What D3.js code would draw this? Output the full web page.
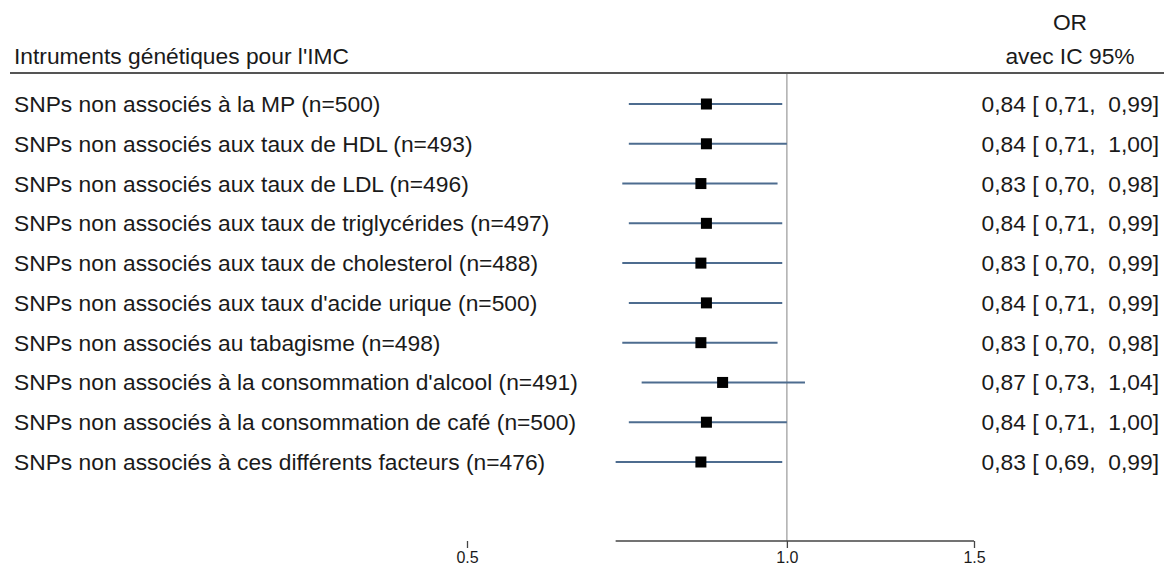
<!DOCTYPE html>
<html><head><meta charset="utf-8">
<script src="https://cdn.jsdelivr.net/npm/d3@7"></script>
<style>body{margin:0;background:#fff}svg{display:block}text{font-family:"Liberation Sans",Arial,sans-serif;fill:#1a1a1a}</style>
</head><body><div id="chart"></div>
<script>
const labels = [
  "SNPs non associés à la MP (n=500)",
  "SNPs non associés aux taux de HDL (n=493)",
  "SNPs non associés aux taux de LDL (n=496)",
  "SNPs non associés aux taux de triglycérides (n=497)",
  "SNPs non associés aux taux de cholesterol (n=488)",
  "SNPs non associés aux taux d'acide urique (n=500)",
  "SNPs non associés au tabagisme (n=498)",
  "SNPs non associés à la consommation d'alcool (n=491)",
  "SNPs non associés à la consommation de café (n=500)",
  "SNPs non associés à ces différents facteurs (n=476)"
];
const orValues = [0.84, 0.84, 0.83, 0.84, 0.83, 0.84, 0.83, 0.87, 0.84, 0.83];
const ciLower  = [0.71, 0.71, 0.70, 0.71, 0.70, 0.71, 0.70, 0.73, 0.71, 0.69];
const ciUpper  = [0.99, 1.00, 0.98, 0.99, 0.99, 0.99, 0.98, 1.04, 1.00, 0.99];
const tickValues = [0.5, 1.0, 1.5];
const headerLeft = "Intruments génétiques pour l'IMC";
const headerRight = ["OR", "avec IC 95%"];

const W = 1164, H = 570;
const FS = 22.8;
const svg = d3.select("#chart").append("svg").attr("width", W).attr("height", H);
const x = d3.scaleLog().domain([0.5, 1.5]).range([467, 974]);
const y = d3.scalePoint().domain(d3.range(labels.length)).range([104, 462]);
const fmt = v => v.toFixed(2).replace(".", ",");
const axisY = 541;

// header
svg.append("text").attr("x", 14).attr("y", 64).attr("font-size", FS).text(headerLeft);
headerRight.forEach((t, i) => svg.append("text").attr("x", 1070).attr("y", 30 + i * 34)
  .attr("text-anchor", "middle").attr("font-size", FS).text(t));
svg.append("line").attr("x1", 10).attr("x2", W).attr("y1", 73).attr("y2", 73)
  .attr("stroke", "#555").attr("stroke-width", 2);

// reference line
svg.append("line").attr("x1", x(1)).attr("x2", x(1)).attr("y1", 74).attr("y2", axisY)
  .attr("stroke", "#a0a0a0").attr("stroke-width", 1.3);

// rows
const rows = svg.append("g").selectAll("g").data(labels).join("g")
  .attr("transform", (d, i) => `translate(0,${y(i)})`);
rows.append("text").attr("x", 14).attr("y", 8).attr("font-size", FS).text(d => d);
rows.append("line").attr("x1", (d, i) => x(ciLower[i])).attr("x2", (d, i) => x(ciUpper[i]))
  .attr("stroke", "#4d6c8f").attr("stroke-width", 2);
rows.append("rect").attr("x", (d, i) => x(orValues[i]) - 5.5).attr("y", -5.5)
  .attr("width", 11).attr("height", 11).attr("fill", "#000");
rows.append("text").attr("x", 1159).attr("y", 8).attr("font-size", FS)
  .attr("text-anchor", "end").style("white-space", "pre")
  .text((d, i) => `${fmt(orValues[i])} [ ${fmt(ciLower[i])},  ${fmt(ciUpper[i])}]`);

// axis
const axis = d3.axisBottom(x).tickValues(tickValues).tickFormat(d3.format(".1f")).tickSize(7).tickPadding(4);
const ag = svg.append("g").attr("transform", `translate(0,${axisY})`).call(axis);
ag.select(".domain").remove();
ag.append("line").attr("x1", x(d3.min(ciLower))).attr("x2", x(1.5)).attr("stroke", "#444").attr("stroke-width", 1.5);
ag.selectAll(".tick line").attr("stroke", "#444").attr("stroke-width", 1.3);
ag.selectAll(".tick text").attr("font-size", 16).attr("fill", "#1a1a1a")
  .style("font-family", '"Liberation Sans",Arial,sans-serif');
</script></body></html>
